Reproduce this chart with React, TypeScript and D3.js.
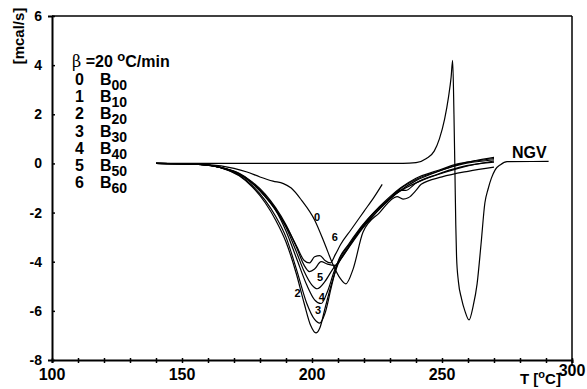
import { useEffect, useRef } from "react";
import * as d3 from "d3";

type Pt = [number, number];

// tick labels
const xTicks = [100, 150, 200, 250, 300];
const yTicks = [6, 4, 2, 0, -2, -4, -6, -8];

// legend
const legendIds = ["0", "1", "2", "3", "4", "5", "6"];
const legendSubs = ["00", "10", "20", "30", "40", "50", "60"];

// DSC curves, [T in °C, heat flow in mcal/s]
const curve0: Pt[] = [
  [140, 0], [160, -0.05], [170, -0.2], [175, -0.35], [180, -0.55], [185, -0.72],
  [189, -0.82], [192, -1.0], [196, -1.5], [201, -2.3], [205, -3.3], [208, -4.1],
  [211, -4.7], [213, -4.9], [215.8, -4.3], [219.6, -2.8], [226, -2.0], [232.7, -1.35],
  [235, -1.45], [237, -1.4], [240, -1.1], [242, -0.85], [250, -0.55], [260, -0.32], [270, -0.15],
];
const curve1: Pt[] = [
  [140, 0], [155, -0.03], [162, -0.1], [167, -0.22], [172, -0.4], [177, -0.75],
  [182, -1.25], [186, -1.8], [190, -2.5], [194, -3.4], [197, -4.15], [199, -4.4],
  [201, -4.3], [203.5, -4.0], [206, -4.1], [209, -4.15], [212, -3.75], [216, -3.1],
  [220, -2.5], [224, -2.0], [228, -1.6], [232, -1.25], [236, -1.0], [242, -0.7],
  [250, -0.4], [258, -0.15], [270, 0.1],
];
const curve2: Pt[] = [
  [140, 0], [155, -0.03], [162, -0.1], [167, -0.25], [172, -0.5], [177, -0.95],
  [182, -1.6], [186, -2.3], [190, -3.2], [194, -4.5], [197, -5.7], [199.5, -6.6],
  [201.5, -6.9], [203, -6.7], [205, -5.9], [207.5, -4.9], [210, -4.1], [214, -3.4],
  [218, -2.8], [222, -2.3], [226, -1.85], [230, -1.45], [234, -1.1], [240, -0.7],
  [248, -0.35], [256, -0.05], [263, 0.12], [270, 0.25],
];
const curve3: Pt[] = [
  [140, 0], [155, -0.03], [162, -0.1], [167, -0.24], [172, -0.48], [177, -0.9],
  [182, -1.5], [186, -2.15], [190, -3.0], [194, -4.3], [198, -5.7], [201, -6.35],
  [203, -6.5], [205, -6.1], [207.5, -5.0], [210, -4.0], [214, -3.3], [218, -2.7],
  [222, -2.2], [226, -1.75], [230, -1.35], [234, -1.0], [240, -0.6], [248, -0.3],
  [256, -0.02], [263, 0.1], [270, 0.2],
];
const curve4: Pt[] = [
  [140, 0], [155, -0.03], [162, -0.1], [167, -0.23], [172, -0.44], [177, -0.82],
  [182, -1.35], [186, -1.9], [190, -2.75], [194, -3.85], [198, -4.95], [201, -5.55],
  [203.5, -5.7], [206, -5.2], [208.5, -4.4], [211, -3.8], [215, -3.2], [219, -2.6],
  [223, -2.1], [227, -1.7], [231, -1.3], [235, -0.95], [241, -0.6], [249, -0.3],
  [257, -0.05], [270, 0.15],
];
const curve5: Pt[] = [
  [140, 0], [155, -0.03], [162, -0.1], [167, -0.22], [172, -0.42], [177, -0.78],
  [182, -1.3], [186, -1.85], [190, -2.6], [194, -3.6], [197, -4.4], [200, -4.95],
  [202, -5.1], [205, -4.8], [208, -4.3], [211, -3.9], [215, -3.3], [219, -2.7],
  [223, -2.2], [227, -1.75], [231, -1.35], [234, -1.1], [236, -1.1], [240, -0.8],
  [248, -0.45], [257, -0.15], [270, 0.05],
];
const curve6: Pt[] = [
  [140, 0], [155, -0.03], [162, -0.1], [167, -0.22], [172, -0.43], [177, -0.8],
  [182, -1.35], [186, -1.9], [190, -2.55], [194, -3.35], [197, -3.95], [199, -4.05],
  [201, -3.8], [203, -3.75], [205, -3.95], [207, -4.05], [209, -3.7], [211, -3.3],
  [215, -2.7], [220, -1.95], [224, -1.35], [227, -0.85],
];
const ngv: Pt[] = [
  [140, 0], [200, 0], [235, 0], [240, 0.03], [244, 0.2], [247, 0.5], [249, 1.0],
  [251, 1.8], [252.5, 2.7], [253.5, 3.5], [254.1, 4.2], [254.6, 2.0], [255.0, -0.5],
  [255.3, -2.5], [255.6, -3.8], [256.3, -4.8], [257.5, -5.5], [258.8, -6.0],
  [260.4, -6.37], [262, -5.8], [263.5, -4.9], [265, -3.3], [266.5, -1.6],
  [267.7, -1.05], [269, -0.6], [270.5, -0.25], [272.5, -0.05], [275, 0.07], [291, 0.08],
];
const curves = [curve0, curve1, curve2, curve3, curve4, curve5, curve6, ngv];

// inline curve labels [text, T, value]
const curveLabels: [string, number, number][] = [
  ["0", 201.9, -2.16],
  ["6", 208.8, -2.98],
  ["5", 203.1, -4.61],
  ["4", 203.8, -5.43],
  ["3", 202.3, -5.96],
  ["2", 194.4, -5.27],
];

export default function App() {
  const svgRef = useRef<SVGSVGElement>(null);

  useEffect(() => {
    if (!svgRef.current) return;
    const width = 587;
    const height = 389;
    const margin = { top: 16, right: 15, bottom: 29, left: 52 };
    const font = "'Liberation Sans', Arial, sans-serif";

    const svg = d3.select(svgRef.current);
    svg.selectAll("*").remove();
    svg.attr("viewBox", `0 0 ${width} ${height}`);

    const x = d3.scaleLinear().domain([100, 300]).range([margin.left, width - margin.right]);
    const y = d3.scaleLinear().domain([-8, 6]).range([height - margin.bottom, margin.top]);

    // frame
    svg.append("line").attr("x1", x(100)).attr("x2", x(300)).attr("y1", y(6)).attr("y2", y(6))
      .attr("stroke", "#000").attr("stroke-width", 1.5);
    svg.append("line").attr("x1", x(300)).attr("x2", x(300)).attr("y1", y(6)).attr("y2", y(-8) + 6)
      .attr("stroke", "#000").attr("stroke-width", 1.5);

    // bottom axis
    const gx = svg.append("g").attr("transform", `translate(0,${y(-8)})`)
      .call(d3.axisBottom(x).tickValues(d3.range(100, 301, 10)).tickSize(3).tickFormat(() => ""));
    gx.select(".domain").attr("stroke-width", 2);
    gx.selectAll(".tick line").attr("y1", -2).attr("stroke-width", 1.5);

    // left axis
    const gy = svg.append("g").attr("transform", `translate(${x(100)},0)`)
      .call(d3.axisLeft(y).tickValues(yTicks).tickSize(4).tickFormat(() => ""));
    gy.select(".domain").attr("stroke-width", 2);
    gy.selectAll(".tick line").attr("x2", 3).attr("stroke-width", 1.5);

    // x tick labels
    svg.append("g").selectAll("text").data(xTicks).join("text")
      .attr("x", (d) => x(d))
      .attr("y", (d) => (d === 300 ? y(-8) + 16 : y(-8) + 20))
      .attr("text-anchor", "middle")
      .attr("font-family", font).attr("font-weight", "bold").attr("font-size", 16)
      .text((d) => d);

    // y tick labels
    svg.append("g").selectAll("text").data(yTicks).join("text")
      .attr("x", x(100) - 10)
      .attr("y", (d) => y(d) + 5)
      .attr("text-anchor", "end")
      .attr("font-family", font).attr("font-weight", "bold").attr("font-size", 14)
      .text((d) => d);

    // axis titles
    svg.append("text")
      .attr("transform", `translate(24,36) rotate(-90)`)
      .attr("text-anchor", "middle")
      .attr("font-family", font).attr("font-weight", "bold").attr("font-size", 15)
      .text("[mcal/s]");

    const xt = svg.append("text").attr("x", 520).attr("y", 384)
      .attr("font-family", font).attr("font-weight", "bold").attr("font-size", 15);
    xt.append("tspan").text("T [");
    xt.append("tspan").attr("dy", -6).attr("font-size", 11).text("o");
    xt.append("tspan").attr("dy", 6).text("C]");

    // curves
    const line = d3.line<Pt>().x((d) => x(d[0])).y((d) => y(d[1])).curve(d3.curveMonotoneX);
    svg.append("g").selectAll("path").data(curves).join("path")
      .attr("d", (d) => line(d))
      .attr("fill", "none")
      .attr("stroke", "#000")
      .attr("stroke-width", 1.2);

    // curve number labels
    svg.append("g").selectAll("text").data(curveLabels).join("text")
      .attr("x", (d) => x(d[1]))
      .attr("y", (d) => y(d[2]) + 4)
      .attr("text-anchor", "middle")
      .attr("font-family", font).attr("font-weight", "bold").attr("font-size", 11)
      .text((d) => d[0]);

    // NGV label
    svg.append("text").attr("x", 512).attr("y", 158)
      .attr("font-family", font).attr("font-weight", "bold").attr("font-size", 16)
      .text("NGV");

    // legend
    const beta = svg.append("text").attr("x", 72).attr("y", 67)
      .attr("font-family", font).attr("font-weight", "bold").attr("font-size", 16);
    beta.append("tspan").attr("font-weight", "normal").attr("font-family", "'DejaVu Serif', serif").text("β");
    beta.append("tspan").text(" =20 ");
    beta.append("tspan").attr("dy", -6).attr("font-size", 13).text("o");
    beta.append("tspan").attr("dy", 6).text("C/min");

    const rows = svg.append("g").selectAll("g").data(legendIds).join("g")
      .attr("transform", (_, i) => `translate(0,${85 + i * 17.2})`);
    rows.append("text").attr("x", 75)
      .attr("font-family", font).attr("font-weight", "bold").attr("font-size", 16)
      .text((d) => d);
    const lbl = rows.append("text").attr("x", 100)
      .attr("font-family", font).attr("font-weight", "bold").attr("font-size", 16);
    lbl.append("tspan").text("B");
    lbl.append("tspan").attr("dy", 5).attr("font-size", 14).text((_, i) => legendSubs[i]);
  }, []);

  return (
    <div style={{ position: "absolute", left: 0, top: 0, width: 587, height: 389, background: "#fff" }}>
      <svg ref={svgRef} width={587} height={389} style={{ display: "block" }} />
    </div>
  );
}
